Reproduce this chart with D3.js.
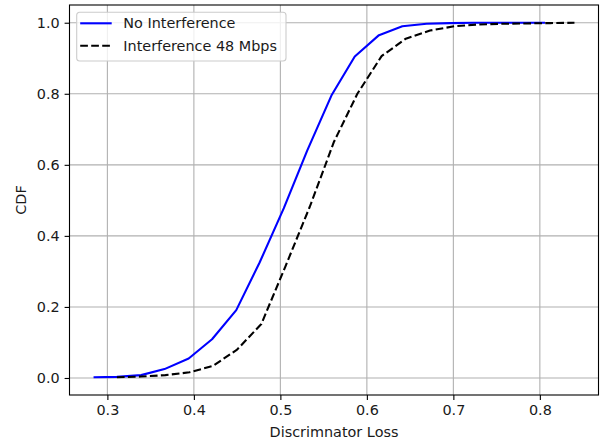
<!DOCTYPE html>
<html>
<head>
<meta charset="utf-8">
<script src="https://cdn.jsdelivr.net/npm/d3@7"></script>
<style>
  html, body { margin: 0; padding: 0; background: #fff; }
  svg { display: block; font-family: "DejaVu Sans", sans-serif; }
</style>
</head>
<body>
<svg id="chart" width="600" height="445"></svg>
<script>
// Discriminator loss values (x) and cumulative fractions (y) for each run
const lossNoInterference = [0.284, 0.311, 0.339, 0.366, 0.394, 0.421, 0.449, 0.476, 0.504, 0.531,
                            0.559, 0.586, 0.614, 0.641, 0.669, 0.696, 0.724, 0.751, 0.779, 0.806];
const cdfNoInterference  = [0.002, 0.003, 0.008, 0.025, 0.055, 0.109, 0.191, 0.325, 0.478, 0.640,
                            0.795, 0.905, 0.965, 0.990, 0.997, 0.999, 1.000, 1.000, 1.000, 1.000];

const lossInterference = [0.311, 0.339, 0.367, 0.395, 0.422, 0.450, 0.478, 0.506, 0.534, 0.562,
                          0.589, 0.617, 0.645, 0.673, 0.701, 0.728, 0.756, 0.784, 0.812, 0.840];
const cdfInterference  = [0.002, 0.004, 0.008, 0.016, 0.034, 0.080, 0.152, 0.315, 0.482, 0.665,
                          0.800, 0.906, 0.955, 0.978, 0.990, 0.995, 0.997, 0.998, 0.999, 1.000];

const seriesNames = ["No Interference", "Interference 48 Mbps"];
const xTicks = [0.3, 0.4, 0.5, 0.6, 0.7, 0.8];
const yTicks = [0.0, 0.2, 0.4, 0.6, 0.8, 1.0];
const xLabel = "Discrimnator Loss";
const yLabel = "CDF";

const W = 600, H = 445;
const margin = { left: 69.5, right: 1.5, top: 5, bottom: 50 };
const fontPx = 14.4;

const svg = d3.select("#chart");
const plotW = W - margin.left - margin.right;
const plotH = H - margin.top - margin.bottom;
const g = svg.append("g").attr("transform", `translate(${margin.left},${margin.top})`);

// 5% padding around the data extent on both axes
function padded(values) {
  const [lo, hi] = d3.extent(values);
  const m = (hi - lo) * 0.05;
  return [lo - m, hi + m];
}
const x = d3.scaleLinear()
  .domain(padded(lossNoInterference.concat(lossInterference)))
  .range([0, plotW]);
const y = d3.scaleLinear()
  .domain(padded(cdfNoInterference.concat(cdfInterference)))
  .range([plotH, 0]);

// grid
const grid = g.append("g").attr("stroke", "#b0b0b0").attr("stroke-width", 1.1);
grid.selectAll("line.gx").data(xTicks).join("line")
  .attr("x1", d => x(d)).attr("x2", d => x(d))
  .attr("y1", 0).attr("y2", plotH);
grid.selectAll("line.gy").data(yTicks).join("line")
  .attr("x1", 0).attr("x2", plotW)
  .attr("y1", d => y(d)).attr("y2", d => y(d));

// curves
const line = d3.line().x(d => x(d[0])).y(d => y(d[1]));
const series = [
  { name: seriesNames[0], pts: d3.zip(lossNoInterference, cdfNoInterference), color: "#0000ff", dash: null },
  { name: seriesNames[1], pts: d3.zip(lossInterference, cdfInterference), color: "#000000", dash: "7.7,3.3" }
];
g.append("g").selectAll("path").data(series).join("path")
  .attr("d", d => line(d.pts))
  .attr("fill", "none")
  .attr("stroke", d => d.color)
  .attr("stroke-width", 2.1)
  .attr("stroke-dasharray", d => d.dash)
  .attr("stroke-linejoin", "round")
  .attr("stroke-linecap", "butt");

// axes
const xAxis = g.append("g").attr("transform", `translate(0,${plotH})`)
  .call(d3.axisBottom(x).tickValues(xTicks).tickFormat(d3.format(".1f"))
    .tickSize(4.9).tickPadding(4.9).tickSizeOuter(0));
const yAxis = g.append("g")
  .call(d3.axisLeft(y).tickValues(yTicks).tickFormat(d3.format(".1f"))
    .tickSize(4.9).tickPadding(4.9).tickSizeOuter(0));
[xAxis, yAxis].forEach(a => {
  a.select(".domain").remove();
  a.selectAll(".tick line").attr("stroke", "#000").attr("stroke-width", 1.1);
  a.selectAll(".tick text").attr("fill", "#1a1a1a").attr("font-size", fontPx)
    .attr("font-family", "DejaVu Sans, sans-serif");
});

// frame
g.append("rect").attr("x", 0).attr("y", 0).attr("width", plotW).attr("height", plotH)
  .attr("fill", "none").attr("stroke", "#000").attr("stroke-width", 1.1);

// axis labels
svg.append("text")
  .attr("x", margin.left + plotW / 2).attr("y", 437)
  .attr("text-anchor", "middle").attr("font-size", fontPx).attr("fill", "#1a1a1a")
  .text(xLabel);
svg.append("text")
  .attr("transform", `translate(26,${margin.top + plotH / 2}) rotate(-90)`)
  .attr("text-anchor", "middle").attr("font-size", fontPx).attr("fill", "#1a1a1a")
  .text(yLabel);

// legend
const leg = svg.append("g").attr("transform", "translate(76.7,12.3)");
leg.append("rect").attr("width", 209.3).attr("height", 48.7).attr("rx", 3)
  .attr("fill", "#fff").attr("fill-opacity", 0.8)
  .attr("stroke", "#cccccc").attr("stroke-width", 1.1);
const rows = leg.selectAll("g.row").data(series).join("g")
  .attr("transform", (d, i) => `translate(0,${11 + i * 22.4})`);
rows.append("line")
  .attr("x1", 3.5).attr("x2", 35)
  .attr("stroke", d => d.color).attr("stroke-width", 2.1)
  .attr("stroke-dasharray", d => d.dash);
rows.append("text")
  .attr("x", 46.6).attr("dy", "0.36em")
  .attr("font-size", fontPx).attr("fill", "#1a1a1a")
  .text(d => d.name);
</script>
</body>
</html>
